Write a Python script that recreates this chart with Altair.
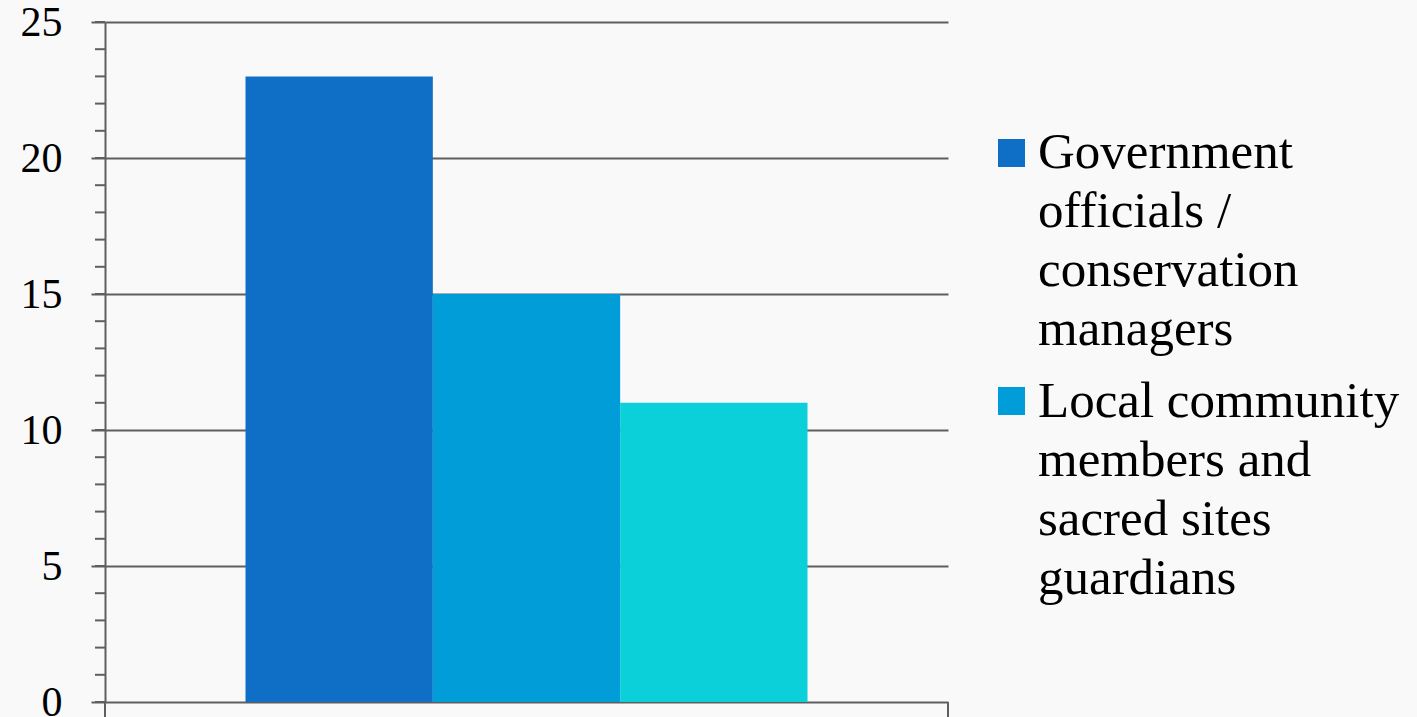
import altair as alt
import pandas as pd

# Series shown as three adjacent bars
series = [
    "Government officials / conservation managers",
    "Local community members and sacred sites guardians",
    "Other",
]
counts = [23, 15, 11]
colors = ["#0F6FC6", "#009DD9", "#0BD0D9"]

# Y axis ticks
major_ticks = [0, 5, 10, 15, 20, 25]
minor_ticks = list(range(0, 26))

# Legend text, one list per entry (wrapped lines)
legend_lines_1 = ["Government", "officials /", "conservation", "managers"]
legend_lines_2 = ["Local community", "members and", "sacred sites", "guardians"]

FONT = "Liberation Serif"
LINE = "#5f5f5f"
LW = 2

df = pd.DataFrame({"series": series, "count": counts})
minor_df = pd.DataFrame({"count": minor_ticks})
one = pd.DataFrame({"k": [0]})

y_scale = alt.Scale(domain=[0, 25], nice=False)
y_axis = alt.Axis(
    values=major_ticks,
    title=None,
    grid=True,
    gridColor=LINE,
    gridWidth=LW,
    domain=True,
    domainColor=LINE,
    domainWidth=LW,
    ticks=True,
    tickSize=14,
    tickColor=LINE,
    tickWidth=LW,
    labelFont=FONT,
    labelFontSize=42,
    labelColor="#000000",
    labelPadding=29,
)

bars = alt.Chart(df).mark_bar(opacity=1).encode(
    x=alt.X(
        "series:N",
        sort=series,
        axis=None,
        scale=alt.Scale(paddingInner=0, paddingOuter=0.75),
    ),
    y=alt.Y("count:Q", scale=y_scale, axis=y_axis),
    color=alt.Color(
        "series:N",
        scale=alt.Scale(domain=series, range=colors),
        legend=None,
    ),
)

# Minor tick marks on the left axis, every 1 unit
minor = alt.Chart(minor_df).mark_rule(color=LINE, strokeWidth=LW).encode(
    y=alt.Y("count:Q", scale=y_scale, axis=y_axis),
    x=alt.value(-10),
    x2=alt.value(0),
)

# Category boundary ticks below the baseline
edge_left = alt.Chart(one).mark_rule(color=LINE, strokeWidth=LW).encode(
    x=alt.value(0), y=alt.value(680), y2=alt.value(700)
)
edge_right = alt.Chart(one).mark_rule(color=LINE, strokeWidth=LW).encode(
    x=alt.value(843), y=alt.value(680), y2=alt.value(700)
)

# Hand-built legend with wrapped labels
sw1 = alt.Chart(one).mark_rect(color=colors[0]).encode(
    x=alt.value(893), x2=alt.value(920), y=alt.value(117), y2=alt.value(145)
)
sw2 = alt.Chart(one).mark_rect(color=colors[1]).encode(
    x=alt.value(893), x2=alt.value(920), y=alt.value(365), y2=alt.value(393)
)
txt1 = alt.Chart(one).mark_text(
    text=legend_lines_1, font=FONT, fontSize=51, lineHeight=59,
    align="left", baseline="alphabetic", color="#000000",
).encode(x=alt.value(933), y=alt.value(146))
txt2 = alt.Chart(one).mark_text(
    text=legend_lines_2, font=FONT, fontSize=51, lineHeight=59,
    align="left", baseline="alphabetic", color="#000000",
).encode(x=alt.value(933), y=alt.value(395))

chart = alt.layer(
    minor, bars, edge_left, edge_right, sw1, sw2, txt1, txt2
).properties(
    width=843,
    height=680,
    autosize=alt.AutoSizeParams(type="none"),
    padding={"left": 105, "top": 22, "right": 469, "bottom": 15},
    background="#f9f9f9",
).configure_view(
    strokeWidth=0, fill="#f9f9f9"
)

chart.save("out.html", embed_options={"renderer": "svg", "actions": False})
